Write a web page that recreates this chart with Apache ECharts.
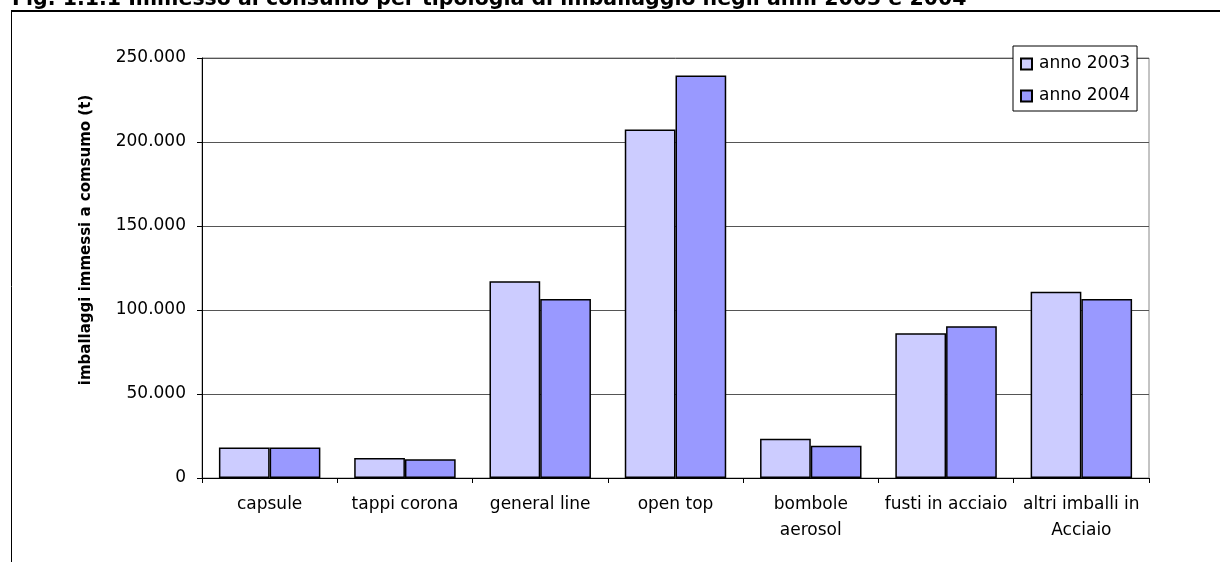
<!DOCTYPE html>
<html>
<head>
<meta charset="utf-8">
<script src="https://cdn.jsdelivr.net/npm/echarts@6/dist/echarts.min.js"></script>
<style>
  html, body { margin: 0; padding: 0; background: #fff; }
  #chart { width: 1220px; height: 562px; }
</style>
</head>
<body>
<div id="chart"></div>
<script>
// Packaging types and tonnes placed on the market
const categories = ['capsule', 'tappi corona', 'general line', 'open top', 'bombole\naerosol', 'fusti in acciaio', 'altri imballi in\nAcciaio'];
const seriesNames = ['anno 2003', 'anno 2004'];
const values2003 = [18200, 11900, 117100, 207400, 23400, 86100, 110900];
const values2004 = [18200, 11100, 106600, 239600, 19200, 90300, 106600];
const yTicks = [0, 50000, 100000, 150000, 200000, 250000];

const titleText = 'Fig. 1.1.1 Immesso al consumo per tipologia di imballaggio negli anni 2003 e 2004';
const yAxisTitle = 'imballaggi immessi a comsumo (t)';

const FONT = '"DejaVu Sans", sans-serif';

function formatThousands(v) {
  return String(v).replace(/\B(?=(\d{3})+(?!\d))/g, '.');
}

const chart = echarts.init(document.getElementById('chart'), null, { renderer: 'canvas' });

chart.setOption({
  backgroundColor: '#ffffff',
  animation: false,
  textStyle: { fontFamily: FONT },
  grid: {
    left: 202, right: 71, top: 58, bottom: 84,
    show: true, borderColor: '#888888', borderWidth: 1, backgroundColor: 'transparent'
  },
  legend: {
    orient: 'vertical',
    left: 1013, top: 46,
    padding: [8, 7, 5, 7],
    itemGap: 12,
    itemWidth: 11, itemHeight: 11,
    borderColor: '#000000', borderWidth: 1,
    backgroundColor: '#ffffff',
    icon: 'rect',
    data: seriesNames,
    textStyle: { fontFamily: FONT, fontSize: 17, color: '#000', lineHeight: 20, padding: [0, 0, 0, 2] }
  },
  xAxis: {
    type: 'category',
    data: categories,
    axisLine: { lineStyle: { color: '#000', width: 1 } },
    axisTick: { show: true, length: 5, lineStyle: { color: '#000' } },
    axisLabel: { interval: 0, margin: 14, fontFamily: FONT, fontSize: 17, color: '#000', lineHeight: 26 }
  },
  yAxis: {
    type: 'value',
    min: yTicks[0], max: yTicks[yTicks.length - 1], interval: yTicks[1] - yTicks[0],
    axisLine: { show: true, lineStyle: { color: '#000', width: 1 } },
    axisTick: { show: true, length: 5, lineStyle: { color: '#000' } },
    axisLabel: { margin: 16, fontFamily: FONT, fontSize: 17, color: '#000', formatter: formatThousands },
    splitLine: { show: true, lineStyle: { color: '#555555', width: 1 } }
  },
  series: [
    {
      name: seriesNames[0], type: 'bar', data: values2003,
      barGap: '0%', barCategoryGap: '25%',
      itemStyle: { color: '#CCCCFF', borderColor: '#000000', borderWidth: 1.5 }
    },
    {
      name: seriesNames[1], type: 'bar', data: values2004,
      barGap: '0%', barCategoryGap: '25%',
      itemStyle: { color: '#9999FF', borderColor: '#000000', borderWidth: 1.5 }
    }
  ],
  graphic: [
    // page heading, partly above the top edge
    {
      type: 'text', left: 12, top: -11, z: 10,
      style: { text: titleText, font: 'bold 20.5px ' + FONT, fill: '#000' }
    },
    // frame around the figure
    { type: 'line', shape: { x1: 11, y1: 11, x2: 1220, y2: 11 }, style: { stroke: '#000', lineWidth: 2 }, z: 10 },
    { type: 'line', shape: { x1: 11.5, y1: 11, x2: 11.5, y2: 562 }, style: { stroke: '#000', lineWidth: 1 }, z: 10 },
    // vertical axis title
    {
      type: 'text', x: 86, y: 240, rotation: Math.PI / 2, z: 10,
      style: { text: yAxisTitle, font: 'bold 15px ' + FONT, fill: '#000', align: 'center', verticalAlign: 'middle' }
    }
  ]
});
</script>
</body>
</html>
